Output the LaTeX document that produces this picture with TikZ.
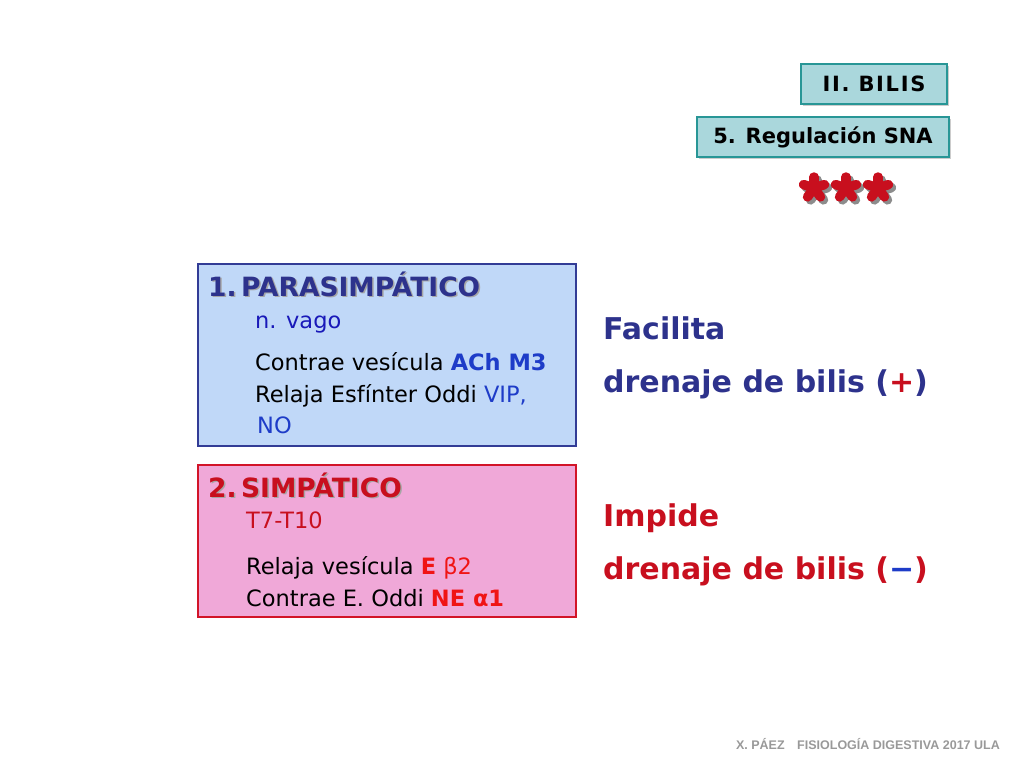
\documentclass[tikz,border=0pt]{standalone}
\usepackage{fontspec}
\setmainfont{DejaVu Sans}
\newfontfamily\footfont{Liberation Sans}
\usetikzlibrary{shadows}
\definecolor{tealfill}{RGB}{170,215,220}
\definecolor{tealline}{RGB}{40,150,150}
\definecolor{parafill}{RGB}{192,216,248}
\definecolor{paraline}{RGB}{50,60,150}
\definecolor{simpfill}{RGB}{240,168,216}
\definecolor{simpline}{RGB}{210,20,40}
\definecolor{darkblue}{RGB}{45,50,140}
\definecolor{vagoblue}{RGB}{25,25,185}
\definecolor{midblue}{RGB}{30,60,200}
\definecolor{darkred}{RGB}{200,15,30}
\definecolor{brightred}{RGB}{240,20,20}
\begin{document}
\begin{tikzpicture}[x=1pt,y=-1pt,
	tag/.style={draw=tealline,line width=2.5pt,fill=tealfill,drop shadow={shadow xshift=2pt,shadow yshift=-2pt,opacity=.4},inner sep=0pt,font=\bfseries\fontsize{21}{21}\selectfont},
	panel/.style={line width=2.5pt,minimum width=378pt,inner sep=0pt},
	line/.style={anchor=base west,inner sep=0pt,font=\fontsize{22.5}{22.5}\selectfont},
	head/.style={anchor=base west,inner sep=0pt,font=\bfseries\fontsize{26.5}{26.5}\selectfont},
	effect/.style={anchor=base west,inner sep=0pt,font=\bfseries\fontsize{30}{30}\selectfont},
	arm/.style={line width=9.5pt,line cap=round}]
	\useasboundingbox (0,0) rectangle (1024,768);

	% titles
	\node[tag,minimum width=146pt,minimum height=40pt] (bilis) at (874,84) {\addfontfeature{LetterSpace=8}II. BILIS};
	\node[tag,minimum width=252pt,minimum height=40pt] (sna) at (823,137) {5. Regulación SNA};
	\foreach \i in {0,1,2} {
		\coordinate (star\i) at (814+\i*32,188);
		\foreach \a in {-90,-18,54,126,198} {
			\draw[arm,black!45] ([shift={(3,3)}]star\i) -- ++(\a:11);
		}
	}
	\foreach \i in {0,1,2} {
		\foreach \a in {-90,-18,54,126,198} {
			\draw[arm,darkred] (star\i) -- ++(\a:11);
		}
	}

	% boxes
	\node[panel,draw=paraline,fill=parafill,minimum height=182pt] (para) at (387,355) {};
	\node[panel,draw=simpline,fill=simpfill,minimum height=152pt] (simp) at (387,541) {};

	\node[head,text=black!35] at (209.5,297.5) {1.\,PARASIMPÁTICO};
	\node[head,text=darkblue] (parahead) at (208,296) {1.\,PARASIMPÁTICO};
	\node[line,text=vagoblue] (vago) at (255,328) {n. vago};
	\node[line] (contrae) at (255,370) {Contrae vesícula \textcolor{midblue}{\bfseries ACh M3}};
	\node[line] (relaja) at (255,402) {Relaja Esfínter Oddi \textcolor{midblue}{VIP,}};
	\node[line,text=midblue] (no) at (257,433) {NO};

	\node[head,text=black!35] at (209.5,498.5) {2.\,SIMPÁTICO};
	\node[head,text=darkred] (simphead) at (208,497) {2.\,SIMPÁTICO};
	\node[line,text=darkred] (tseg) at (246,528) {T7-T10};
	\node[line] (vesicula) at (246,574) {Relaja vesícula \textcolor{brightred}{\bfseries E} \textcolor{brightred}{β2}};
	\node[line] (oddi) at (246,606) {Contrae E. Oddi \textcolor{brightred}{\bfseries NE α1}};

	% effects
	\node[effect,text=darkblue] (facilita) at (603,339) {Facilita};
	\node[effect,text=darkblue] (drenplus) at (603,392) {drenaje de bilis (\textcolor{darkred}{+})};
	\node[effect,text=darkred] (impide) at (603,526) {Impide};
	\node[effect,text=darkred] (drenminus) at (603,579) {drenaje de bilis (\textcolor{midblue}{\textminus})};

	\node[anchor=base east,inner sep=0pt,text=black!40,font=\footfont\bfseries\fontsize{12.5}{12.5}\selectfont] (foot) at (1000,749) {X. PÁEZ\quad FISIOLOGÍA DIGESTIVA 2017 ULA};
\end{tikzpicture}
\end{document}
